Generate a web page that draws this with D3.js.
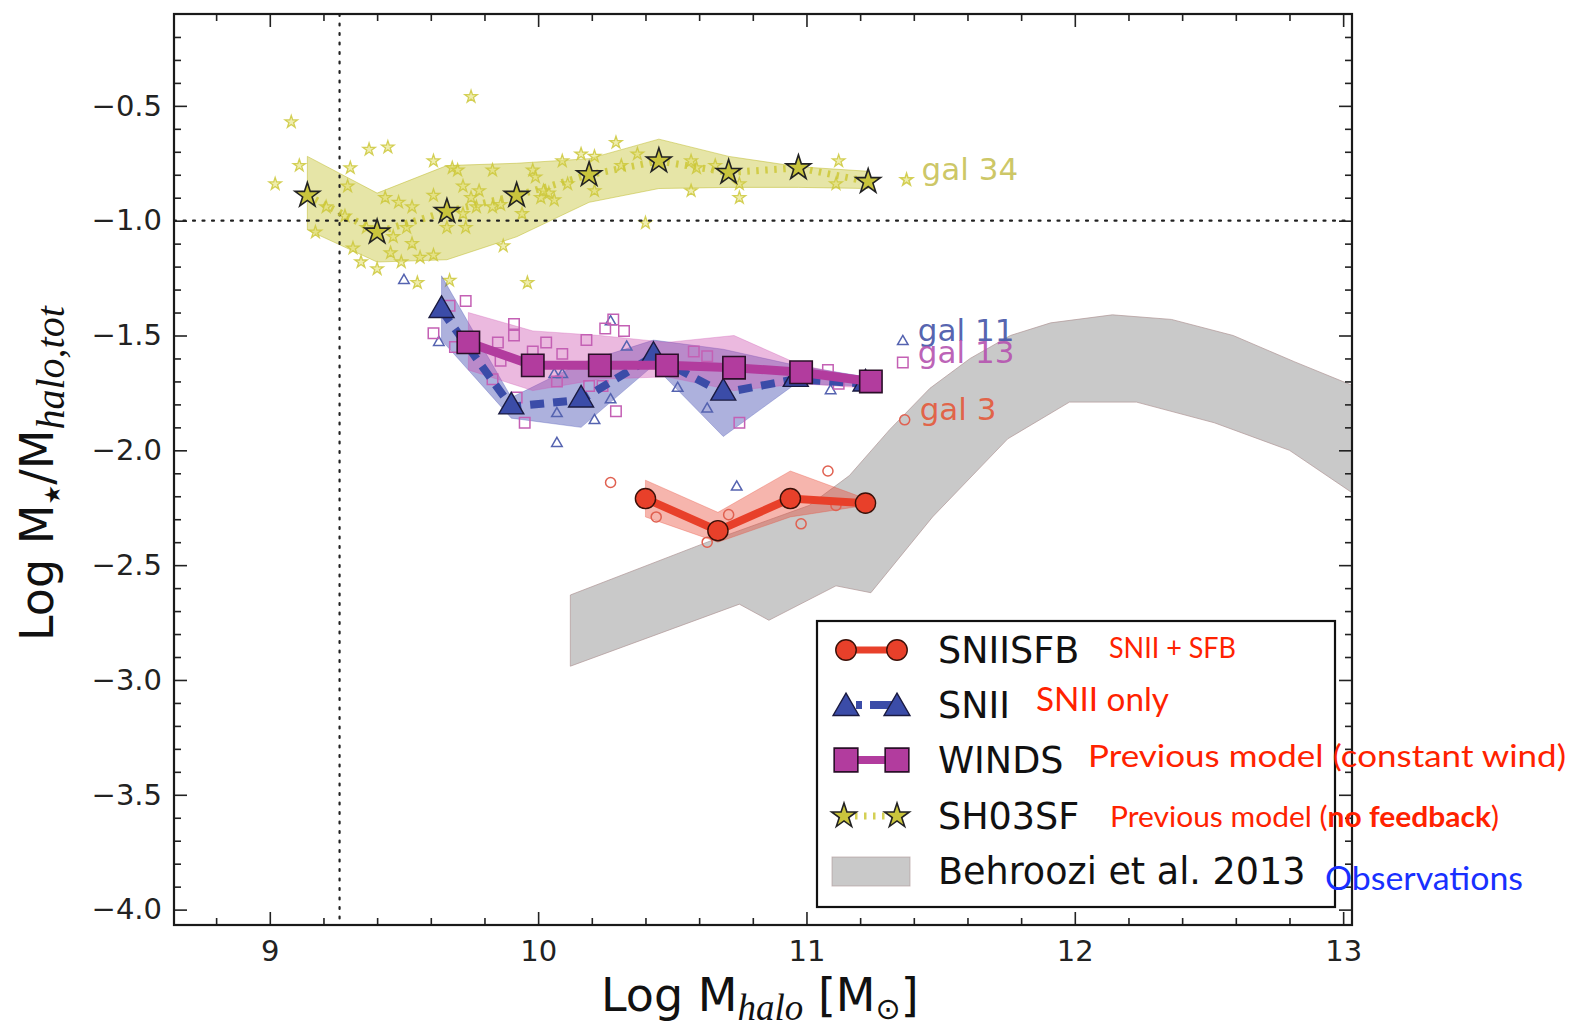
<!DOCTYPE html>
<html><head><meta charset="utf-8">
<script src="https://cdn.jsdelivr.net/npm/d3@7"></script>
<style>body{margin:0;background:#fff;} svg{display:block}</style>
</head><body>
<svg id="chart" width="1585" height="1033"></svg>
<script>
// ---------------- DATA ----------------
const xTicks = [9, 10, 11, 12, 13];
const yTicks = [-0.5, -1.0, -1.5, -2.0, -2.5, -3.0, -3.5, -4.0];
const refX = 9.26;     // vertical dotted reference line
const refY = -1.0;     // horizontal dotted reference line

// SH03SF (no feedback), gal 34
const sh03sfX  = [9.14, 9.40, 9.66, 9.92, 10.19, 10.45, 10.71, 10.97, 11.23];
const sh03sfY  = [-0.89, -1.05, -0.96, -0.89, -0.80, -0.74, -0.79, -0.77, -0.83];
const sh03sfHi = [-0.72, -0.88, -0.76, -0.75, -0.73, -0.645, -0.72, -0.765, -0.785];
const sh03sfLo = [-1.04, -1.18, -1.17, -1.07, -0.92, -0.86, -0.855, -0.855, -0.86];

// SNII only, gal 11
const sniiX  = [9.64, 9.90, 10.16, 10.43, 10.69, 10.96, 11.22];
const sniiY  = [-1.39, -1.81, -1.78, -1.59, -1.75, -1.69, -1.71];
const sniiHi = [-1.24, -1.77, -1.62, -1.52, -1.56, -1.63, -1.68];
const sniiLo = [-1.52, -1.86, -1.90, -1.63, -1.94, -1.71, -1.72];

// WINDS, gal 13
const windsX  = [9.74, 9.98, 10.23, 10.48, 10.73, 10.98, 11.24];
const windsY  = [-1.53, -1.63, -1.63, -1.63, -1.64, -1.66, -1.70];
const windsHi = [-1.40, -1.48, -1.50, -1.53, -1.50, -1.63, -1.69];
const windsLo = [-1.65, -1.74, -1.69, -1.68, -1.74, -1.71, -1.73];

// SNIISFB, gal 3
const sfbX  = [10.40, 10.67, 10.94, 11.22];
const sfbY  = [-2.21, -2.35, -2.21, -2.23];
const sfbHi = [-2.13, -2.27, -2.09, -2.21];
const sfbLo = [-2.29, -2.40, -2.29, -2.24];

// Behroozi et al. 2013 band edges
const behrooziUpper = [[10.12,-2.63],[10.63,-2.40],[11.01,-2.24],[11.16,-2.11],[11.31,-1.91],[11.46,-1.73],[11.61,-1.60],[11.76,-1.50],[11.91,-1.445],[12.14,-1.41],[12.36,-1.43],[12.59,-1.50],[12.82,-1.615],[13.04,-1.72]];
const behrooziLower = [[10.12,-2.94],[10.75,-2.67],[10.86,-2.74],[11.11,-2.59],[11.24,-2.62],[11.47,-2.29],[11.75,-1.95],[11.98,-1.79],[12.23,-1.79],[12.52,-1.88],[12.80,-2.00],[13.04,-2.19]];

// individual snapshots
const gal34Pts = [[9.08,-0.57],[9.75,-0.46],[9.02,-0.84],[9.11,-0.76],[9.37,-0.69],[9.44,-0.68],[9.30,-0.77],[9.29,-0.85],[9.61,-0.74],[9.68,-0.77],[9.70,-0.78],[9.83,-0.78],[9.98,-0.78],[9.43,-0.90],[9.48,-0.92],[9.53,-0.94],[9.61,-0.89],[9.72,-0.85],[9.75,-0.90],[9.78,-0.87],[9.83,-0.94],[9.86,-0.93],[10.01,-0.90],[9.94,-0.97],[9.17,-1.05],[9.28,-0.98],[9.36,-1.03],[9.46,-1.07],[9.51,-1.03],[9.53,-1.10],[9.31,-1.12],[9.34,-1.18],[9.40,-1.21],[9.45,-1.14],[9.49,-1.18],[9.56,-1.16],[9.61,-1.15],[9.66,-1.03],[9.73,-1.03],[9.87,-1.11],[9.67,-1.26],[9.96,-1.27],[9.55,-1.27],[9.72,-0.97],[9.77,-0.94],[9.99,-0.81],[10.04,-0.88],[9.21,-0.94],[10.09,-0.74],[10.16,-0.71],[10.21,-0.72],[10.29,-0.66],[10.37,-0.71],[10.31,-0.76],[10.21,-0.87],[10.57,-0.74],[10.57,-0.87],[10.66,-0.76],[10.75,-0.84],[10.75,-0.90],[11.12,-0.74],[11.11,-0.84],[10.40,-1.01],[10.06,-0.91],[10.02,-0.87],[10.11,-0.84],[10.59,-0.77]];
const gal11Pts = [[9.50,-1.26],[9.63,-1.53],[10.06,-1.67],[10.09,-1.67],[10.07,-1.84],[10.07,-1.97],[10.21,-1.87],[10.27,-1.78],[10.27,-1.44],[10.33,-1.55],[10.52,-1.73],[10.63,-1.82],[11.09,-1.74],[10.74,-2.16]];
const gal13Pts = [[9.73,-1.35],[9.67,-1.37],[9.61,-1.49],[9.69,-1.55],[9.85,-1.53],[9.91,-1.45],[9.91,-1.50],[9.86,-1.61],[9.83,-1.69],[9.92,-1.77],[9.95,-1.88],[10.03,-1.53],[9.98,-1.57],[10.09,-1.58],[10.18,-1.52],[10.07,-1.70],[10.25,-1.47],[10.28,-1.43],[10.32,-1.48],[10.19,-1.72],[10.24,-1.72],[10.29,-1.83],[10.58,-1.57],[10.63,-1.59],[10.75,-1.88],[11.08,-1.65],[11.12,-1.71]];
const gal3Pts  = [[10.27,-2.14],[10.44,-2.29],[10.63,-2.40],[10.71,-2.28],[10.98,-2.32],[11.08,-2.09],[11.11,-2.24]];

// galaxy labels (anchor in data units)
const galNames   = ["gal 34", "gal 11", "gal 13", "gal 3"];
const galLabelX  = [11.373, 11.359, 11.359, 11.366];
const galLabelY  = [-0.822, -1.526, -1.618, -1.867];

const legendNames = ["SNIISFB", "SNII", "WINDS", "SH03SF", "Behroozi et al. 2013"];

// ---------------- SETUP ----------------
const svg = d3.select("#chart");
const L = 174, R = 1352, T = 14, B = 925;
const x = d3.scaleLinear().domain([8.643, 13.033]).range([L, R]);
const y = d3.scaleLinear().domain([-4.067, -0.1]).range([B, T]);

svg.append("defs").append("clipPath").attr("id", "plotclip")
  .append("rect").attr("x", L).attr("y", T).attr("width", R - L).attr("height", B - T);
const g = svg.append("g").attr("clip-path", "url(#plotclip)");

const C = {
  yellow: "#c9c43c", yellowBand: "rgba(195,192,45,0.42)", yellowPt: "rgba(205,200,60,0.85)",
  blue: "#3b4ca8", blueBand: "rgba(60,70,175,0.42)", bluePt: "#5563b0",
  purple: "#b23c9e", purpleBand: "rgba(205,80,175,0.40)", purplePt: "#c460b4",
  red: "#e8402a", redBand: "rgba(232,70,50,0.40)", redPt: "#e06050",
  gray: "#c9c9c9"
};

const sym = (type, size) => d3.symbol().type(type).size(size)();
const zipXY = (xs, ys) => xs.map((v, i) => [v, ys[i]]);
const band = (xs, hi, lo) => d3.area().x((d, i) => x(xs[i])).y0((d, i) => y(lo[i])).y1((d, i) => y(hi[i]))(xs);

// Behroozi band
const bpoly = behrooziUpper.concat(behrooziLower.slice().reverse());
g.append("path").attr("d", d3.line().x(d => x(d[0])).y(d => y(d[1]))(bpoly) + "Z")
  .attr("fill", C.gray).attr("stroke", "rgba(175,150,150,0.7)").attr("stroke-width", 1);

// yellow band
g.append("path").attr("d", band(sh03sfX, sh03sfHi, sh03sfLo))
  .attr("fill", C.yellowBand).attr("stroke", "rgba(190,185,40,0.5)").attr("stroke-width", 1);

// small yellow stars
g.selectAll(".s34").data(gal34Pts).join("path")
  .attr("transform", d => `translate(${x(d[0])},${y(d[1])})`)
  .attr("d", sym(d3.symbolStar, 48))
  .attr("fill", "rgba(225,222,110,0.55)").attr("stroke", C.yellowPt).attr("stroke-width", 1.3);

// reference dotted lines
g.append("line").attr("x1", x(refX)).attr("x2", x(refX)).attr("y1", T).attr("y2", B)
  .attr("stroke", "#222").attr("stroke-width", 2.2).attr("stroke-dasharray", "2,7.5").attr("stroke-linecap", "round");
g.append("line").attr("x1", L).attr("x2", R).attr("y1", y(refY)).attr("y2", y(refY))
  .attr("stroke", "#222").attr("stroke-width", 2.2).attr("stroke-dasharray", "2,7.5").attr("stroke-linecap", "round");

// SH03SF line + big stars
const line = d3.line().x(d => x(d[0])).y(d => y(d[1]));
g.append("path").attr("d", line(zipXY(sh03sfX, sh03sfY))).attr("fill", "none")
  .attr("stroke", "rgba(205,200,55,0.85)").attr("stroke-width", 7).attr("stroke-dasharray", "2.5,6.5");
g.selectAll(".b34").data(zipXY(sh03sfX, sh03sfY)).join("path")
  .attr("transform", d => `translate(${x(d[0])},${y(d[1])})`)
  .attr("d", sym(d3.symbolStar, 190))
  .attr("fill", C.yellow).attr("stroke", "#222").attr("stroke-width", 1.6);

// blue & purple bands
g.append("path").attr("d", band(sniiX, sniiHi, sniiLo)).attr("fill", C.blueBand)
  .attr("stroke", "rgba(60,70,175,0.3)").attr("stroke-width", 1);
g.append("path").attr("d", band(windsX, windsHi, windsLo)).attr("fill", C.purpleBand)
  .attr("stroke", "rgba(205,80,175,0.3)").attr("stroke-width", 1);

// small open markers
g.selectAll(".s11").data(gal11Pts).join("path")
  .attr("transform", d => `translate(${x(d[0])},${y(d[1])})`)
  .attr("d", sym(d3.symbolTriangle, 48)).attr("fill", "none").attr("stroke", C.bluePt).attr("stroke-width", 1.5);
g.selectAll(".s13").data(gal13Pts).join("path")
  .attr("transform", d => `translate(${x(d[0])},${y(d[1])})`)
  .attr("d", sym(d3.symbolSquare, 110)).attr("fill", "none").attr("stroke", C.purplePt).attr("stroke-width", 1.5);

// SNII line + triangles
g.append("path").attr("d", line(zipXY(sniiX, sniiY))).attr("fill", "none")
  .attr("stroke", C.blue).attr("stroke-width", 8).attr("stroke-dasharray", "14,9");
g.selectAll(".b11").data(zipXY(sniiX, sniiY)).join("path")
  .attr("transform", d => `translate(${x(d[0])},${y(d[1])})`)
  .attr("d", sym(d3.symbolTriangle, 270)).attr("fill", C.blue).attr("stroke", "#1a1a40").attr("stroke-width", 1.4);

// WINDS line + squares
g.append("path").attr("d", line(zipXY(windsX, windsY))).attr("fill", "none")
  .attr("stroke", C.purple).attr("stroke-width", 9);
g.selectAll(".b13").data(zipXY(windsX, windsY)).join("path")
  .attr("transform", d => `translate(${x(d[0])},${y(d[1])})`)
  .attr("d", sym(d3.symbolSquare, 500)).attr("fill", C.purple).attr("stroke", "#2a0f28").attr("stroke-width", 1.6);

// red band, points
g.append("path").attr("d", band(sfbX, sfbHi, sfbLo)).attr("fill", C.redBand)
  .attr("stroke", "rgba(232,70,50,0.3)").attr("stroke-width", 1);
g.selectAll(".s3").data(gal3Pts).join("path")
  .attr("transform", d => `translate(${x(d[0])},${y(d[1])})`)
  .attr("d", sym(d3.symbolCircle, 80)).attr("fill", "none").attr("stroke", C.redPt).attr("stroke-width", 1.5);
g.append("path").attr("d", line(zipXY(sfbX, sfbY))).attr("fill", "none")
  .attr("stroke", C.red).attr("stroke-width", 8);
g.selectAll(".b3").data(zipXY(sfbX, sfbY)).join("path")
  .attr("transform", d => `translate(${x(d[0])},${y(d[1])})`)
  .attr("d", sym(d3.symbolCircle, 320)).attr("fill", C.red).attr("stroke", "#3a1008").attr("stroke-width", 1.4);

// galaxy labels
const labelSyms = [
  {t: d3.symbolStar, s: 48, stroke: C.yellowPt, fill: "rgba(225,222,110,0.55)", color: "#c8c258"},
  {t: d3.symbolTriangle, s: 48, stroke: C.bluePt, fill: "none", color: "#4656a8"},
  {t: d3.symbolSquare, s: 110, stroke: C.purplePt, fill: "none", color: "#b654b0"},
  {t: d3.symbolCircle, s: 80, stroke: C.redPt, fill: "none", color: "#e45a3c"}
];
galNames.forEach((name, i) => {
  const px = x(galLabelX[i]), py = y(galLabelY[i]);
  const st = labelSyms[i];
  svg.append("path").attr("transform", `translate(${px},${py})`).attr("d", sym(st.t, st.s))
    .attr("fill", st.fill).attr("stroke", st.stroke).attr("stroke-width", 1.5);
  svg.append("text").attr("x", px + 15).attr("y", py).text(name)
    .attr("font-family", "DejaVu Sans").attr("font-size", 31).attr("fill", st.color).attr("fill-opacity", 0.92);
});

// ---------------- AXES ----------------
const fmt = d3.format(".1f");
const axG = svg.append("g").attr("font-family", "DejaVu Sans");
const minorY = d3.range(-4.0, -0.15, 0.1).map(v => +v.toFixed(1)).filter(v => !yTicks.some(t => Math.abs(t - v) < 1e-6));
const minorX = d3.range(8.8, 13.01, 0.2).map(v => +v.toFixed(1)).filter(v => !xTicks.some(t => Math.abs(t - v) < 1e-6));

function styleAxis(sel) {
  sel.select(".domain").remove();
  sel.selectAll("line").attr("stroke", "#222").attr("stroke-width", 1.6);
  sel.selectAll("text").attr("font-size", 29).attr("fill", "#222").attr("font-family", "DejaVu Sans");
}
axG.append("g").attr("transform", `translate(${L},0)`)
  .call(d3.axisLeft(y).tickValues(yTicks).tickSize(-13).tickPadding(12).tickFormat(fmt)).call(styleAxis);
axG.append("g").attr("transform", `translate(${L},0)`)
  .call(d3.axisLeft(y).tickValues(minorY).tickSize(-7).tickFormat("")).call(styleAxis);
axG.append("g").attr("transform", `translate(${R},0)`)
  .call(d3.axisRight(y).tickValues(yTicks).tickSize(-13).tickFormat("")).call(styleAxis);
axG.append("g").attr("transform", `translate(${R},0)`)
  .call(d3.axisRight(y).tickValues(minorY).tickSize(-7).tickFormat("")).call(styleAxis);
axG.append("g").attr("transform", `translate(0,${B})`)
  .call(d3.axisBottom(x).tickValues(xTicks).tickSize(-13).tickPadding(15).tickFormat(d3.format("d"))).call(styleAxis);
axG.append("g").attr("transform", `translate(0,${B})`)
  .call(d3.axisBottom(x).tickValues(minorX).tickSize(-7).tickFormat("")).call(styleAxis);
axG.append("g").attr("transform", `translate(0,${T})`)
  .call(d3.axisTop(x).tickValues(xTicks).tickSize(-13).tickFormat("")).call(styleAxis);
axG.append("g").attr("transform", `translate(0,${T})`)
  .call(d3.axisTop(x).tickValues(minorX).tickSize(-7).tickFormat("")).call(styleAxis);

svg.append("rect").attr("x", L).attr("y", T).attr("width", R - L).attr("height", B - T)
  .attr("fill", "none").attr("stroke", "#1a1a1a").attr("stroke-width", 2.2);

// axis labels
const xl = svg.append("text").attr("x", 601).attr("y", 1011)
  .attr("font-family", "DejaVu Sans").attr("font-size", 46).attr("fill", "#111");
xl.append("tspan").text("Log M");
xl.append("tspan").attr("font-family", "Liberation Serif").attr("font-style", "italic").attr("font-size", 37).attr("dy", 9).text("halo");
xl.append("tspan").attr("dy", -9).text(" [M");
xl.append("tspan").attr("font-size", 30).attr("dy", 8).text("⊙");
xl.append("tspan").attr("dy", -8).text("]");

const yl = svg.append("text").attr("transform", "translate(53,641) rotate(-90)")
  .attr("font-family", "DejaVu Sans").attr("font-size", 46).attr("fill", "#111");
yl.append("tspan").text("Log M");
yl.append("tspan").attr("font-size", 22).attr("dy", 7).text("★");
yl.append("tspan").attr("dy", -7).text("/M");
yl.append("tspan").attr("font-family", "Liberation Serif").attr("font-style", "italic").attr("font-size", 40).attr("dy", 11).text("halo,tot");

// ---------------- LEGEND ----------------
const lg = svg.append("g");
lg.append("rect").attr("x", 817).attr("y", 621).attr("width", 518).attr("height", 286)
  .attr("fill", "#fff").attr("stroke", "#111").attr("stroke-width", 2.2);
const rowY = [650, 705, 760, 816, 871];
const hx1 = 846, hx2 = 897;
// SNIISFB
lg.append("line").attr("x1", hx1).attr("x2", hx2).attr("y1", rowY[0]).attr("y2", rowY[0]).attr("stroke", C.red).attr("stroke-width", 7);
[hx1, hx2].forEach(px => lg.append("path").attr("transform", `translate(${px},${rowY[0]})`).attr("d", sym(d3.symbolCircle, 330)).attr("fill", C.red).attr("stroke", "#3a1008").attr("stroke-width", 1.4));
// SNII
lg.append("line").attr("x1", hx1 + 10).attr("x2", hx2 - 4).attr("y1", rowY[1]).attr("y2", rowY[1]).attr("stroke", C.blue).attr("stroke-width", 8).attr("stroke-dasharray", "6,8,22,0");
[hx1, hx2].forEach(px => lg.append("path").attr("transform", `translate(${px},${rowY[1] + 3})`).attr("d", sym(d3.symbolTriangle, 290)).attr("fill", C.blue).attr("stroke", "#1a1a40").attr("stroke-width", 1.4));
// WINDS
lg.append("line").attr("x1", hx1).attr("x2", hx2).attr("y1", rowY[2]).attr("y2", rowY[2]).attr("stroke", C.purple).attr("stroke-width", 8);
[hx1, hx2].forEach(px => lg.append("path").attr("transform", `translate(${px},${rowY[2]})`).attr("d", sym(d3.symbolSquare, 560)).attr("fill", C.purple).attr("stroke", "#2a0f28").attr("stroke-width", 1.6));
// SH03SF
lg.append("line").attr("x1", hx1).attr("x2", hx2).attr("y1", rowY[3]).attr("y2", rowY[3]).attr("stroke", "rgba(205,200,55,0.85)").attr("stroke-width", 7).attr("stroke-dasharray", "2.5,6.5");
[hx1 - 2, hx2].forEach(px => lg.append("path").attr("transform", `translate(${px},${rowY[3]})`).attr("d", sym(d3.symbolStar, 190)).attr("fill", C.yellow).attr("stroke", "#222").attr("stroke-width", 1.6));
// Behroozi patch
lg.append("rect").attr("x", 832).attr("y", 857).attr("width", 78).attr("height", 29).attr("fill", C.gray).attr("stroke", "rgba(175,150,150,0.6)");
legendNames.forEach((n, i) => {
  lg.append("text").attr("x", 938).attr("y", rowY[i] + 13).text(n)
    .attr("font-family", "DejaVu Sans").attr("font-size", 36.5).attr("fill", "#111");
});

// ---------------- ANNOTATIONS ----------------
const ann = [
  {parts: [["SNII + SFB", 400]], x: 1109, y: 658, fs: 29, len: 127, c: "#ff2200"},
  {parts: [["SNII only", 400]], x: 1036, y: 711, fs: 33, len: 133, c: "#ff2200"},
  {parts: [["Previous model (constant wind)", 400]], x: 1088, y: 767, fs: 31, len: 478, c: "#ff2200"},
  {parts: [["Previous model (", 400], ["no feedback", 700], [")", 400]], x: 1110, y: 827, fs: 28.5, len: 389, c: "#ff2200"},
  {parts: [["Observations", 400]], x: 1325, y: 890, fs: 32, len: 198, c: "#1830ff"}
];
ann.forEach(a => {
  const t = svg.append("text").attr("x", a.x).attr("y", a.y).attr("font-family", "Lato")
    .attr("font-size", a.fs).attr("fill", a.c).attr("textLength", a.len).attr("lengthAdjust", "spacingAndGlyphs");
  a.parts.forEach(p => t.append("tspan").attr("font-weight", p[1]).text(p[0]));
});
</script></body></html>
